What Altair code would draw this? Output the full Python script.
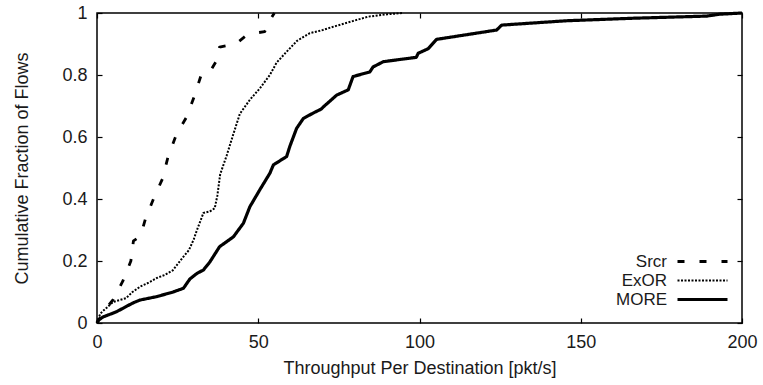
import altair as alt
import pandas as pd

series_order = ["Srcr", "ExOR", "MORE"]

srcr_x = [0, 3, 5, 8, 10.5, 11.3, 13.5, 15, 17.5, 20.3, 22, 24.5, 27.8, 30.3, 32.3, 35, 37.3, 38, 43, 46, 49, 52, 53.5, 55]
srcr_y = [0, 0.05, 0.075, 0.135, 0.2, 0.265, 0.28, 0.335, 0.4, 0.465, 0.535, 0.605, 0.665, 0.735, 0.8, 0.81, 0.85, 0.89, 0.9, 0.925, 0.935, 0.94, 0.975, 1.0]

exor_x = [0, 1, 2, 5, 9, 11, 13.5, 16, 18.5, 21, 23.5, 26.5, 28.5, 30, 31, 33, 35, 36.5, 37.3, 38.2, 40.2, 42.3, 44.3, 47.4, 50.5, 53.6, 55.7, 58.8, 62, 66, 70, 73, 78, 84, 90, 95]
exor_y = [0, 0.03, 0.04, 0.068, 0.08, 0.1, 0.118, 0.13, 0.145, 0.155, 0.17, 0.21, 0.235, 0.27, 0.3, 0.355, 0.36, 0.37, 0.41, 0.48, 0.54, 0.61, 0.675, 0.72, 0.757, 0.8, 0.84, 0.875, 0.91, 0.935, 0.945, 0.955, 0.97, 0.988, 0.996, 1.0]

more_x = [0, 0.5, 2, 6, 11, 13.3, 18.5, 23.6, 26.8, 28.8, 31, 33, 35, 38, 42.3, 45.4, 47.4, 50.5, 53.6, 54.7, 58.8, 59.8, 61.9, 64, 67, 69.5, 70.5, 74.3, 77.9, 79.4, 84.6, 85.6, 88.8, 99, 99.6, 102.7, 105.3, 123.9, 125.5, 145.6, 166, 189, 193, 200]
more_y = [0, 0.01, 0.02, 0.036, 0.064, 0.074, 0.085, 0.1, 0.112, 0.142, 0.16, 0.171, 0.197, 0.246, 0.278, 0.322, 0.375, 0.43, 0.483, 0.51, 0.537, 0.57, 0.628, 0.66, 0.677, 0.69, 0.7, 0.735, 0.752, 0.795, 0.81, 0.826, 0.843, 0.857, 0.87, 0.885, 0.915, 0.945, 0.961, 0.975, 0.983, 0.99, 0.996, 1.0]

x_ticks = [0, 50, 100, 150, 200]
y_ticks = [0, 0.2, 0.4, 0.6, 0.8, 1]

rows = []
for name, xs, ys in [("Srcr", srcr_x, srcr_y), ("ExOR", exor_x, exor_y), ("MORE", more_x, more_y)]:
    for i, (a, b) in enumerate(zip(xs, ys)):
        rows.append({"series": name, "x": a, "y": b, "order": i})
df = pd.DataFrame(rows)

W, H = 645, 310
FONT = "Liberation Sans"
xscale = alt.Scale(domain=[0, 200], nice=False, zero=False)
yscale = alt.Scale(domain=[0, 1], nice=False)

base = alt.Chart(df)

legend = alt.Legend(title=None, orient="none", legendX=597, legendY=240,
                    symbolType="M-5,0H5", symbolSize=100,
                    labelAlign="right", labelOffset={"expr": "-44"},
                    rowPadding=1, symbolStrokeColor="black")

lines = base.mark_line(color="black", strokeCap="butt", strokeJoin="round").encode(
    x=alt.X("x:Q", scale=xscale,
            axis=alt.Axis(orient="bottom", values=x_ticks, ticks=False, domain=False, grid=False,
                          labelPadding=10, labelFlush=False, format="d",
                          title="Throughput Per Destination [pkt/s]", titlePadding=8)),
    y=alt.Y("y:Q", scale=yscale,
            axis=alt.Axis(orient="left", values=y_ticks, ticks=False, domain=False, grid=False,
                          labelPadding=10, labelFlush=False, format="~g",
                          title="Cumulative Fraction of Flows", titlePadding=30)),
    order="order:Q",
    strokeDash=alt.StrokeDash("series:N",
                              scale=alt.Scale(domain=series_order, range=[[7, 15], [2, 1.5], [1, 0]]),
                              legend=legend),
    strokeWidth=alt.StrokeWidth("series:N",
                                scale=alt.Scale(type="ordinal", domain=series_order, range=[2.8, 2, 3.2]),
                                legend=legend),
)

ticks_a = base.mark_line(opacity=0).encode(
    x=alt.X("x:Q", scale=xscale,
            axis=alt.Axis(orient="top", offset=-H, values=x_ticks, labels=False, domain=False,
                          grid=False, ticks=True, tickSize=5, tickColor="black", title=None)),
    y=alt.Y("y:Q", scale=yscale,
            axis=alt.Axis(orient="right", offset=-W, values=y_ticks, labels=False, domain=False,
                          grid=False, ticks=True, tickSize=5, tickColor="black", title=None)),
    detail="series:N",
)

ticks_b = base.mark_line(opacity=0).encode(
    x=alt.X("x:Q", scale=xscale,
            axis=alt.Axis(orient="bottom", offset=-H, values=x_ticks, labels=False, domain=False,
                          grid=False, ticks=True, tickSize=5, tickColor="black", title=None)),
    y=alt.Y("y:Q", scale=yscale,
            axis=alt.Axis(orient="left", offset=-W, values=y_ticks, labels=False, domain=False,
                          grid=False, ticks=True, tickSize=5, tickColor="black", title=None)),
    detail="series:N",
)

chart = alt.layer(lines, ticks_a, ticks_b).resolve_axis(
    x="independent", y="independent"
).properties(
    width=W, height=H,
    autosize=alt.AutoSizeParams(type="none"),
    padding={"left": 97, "top": 13, "right": 21, "bottom": 62},
    background="white",
).configure_view(
    stroke="black", strokeWidth=1.5
).configure_axis(
    labelFont=FONT, titleFont=FONT, labelFontSize=18, titleFontSize=18,
    labelColor="#1a1a1a", titleColor="#1a1a1a", titleFontWeight="normal", tickWidth=1.2,
).configure_legend(
    labelFont=FONT, labelFontSize=17, labelColor="#1a1a1a",
)

chart.save("out.html", embed_options={"renderer": "svg", "actions": False})
